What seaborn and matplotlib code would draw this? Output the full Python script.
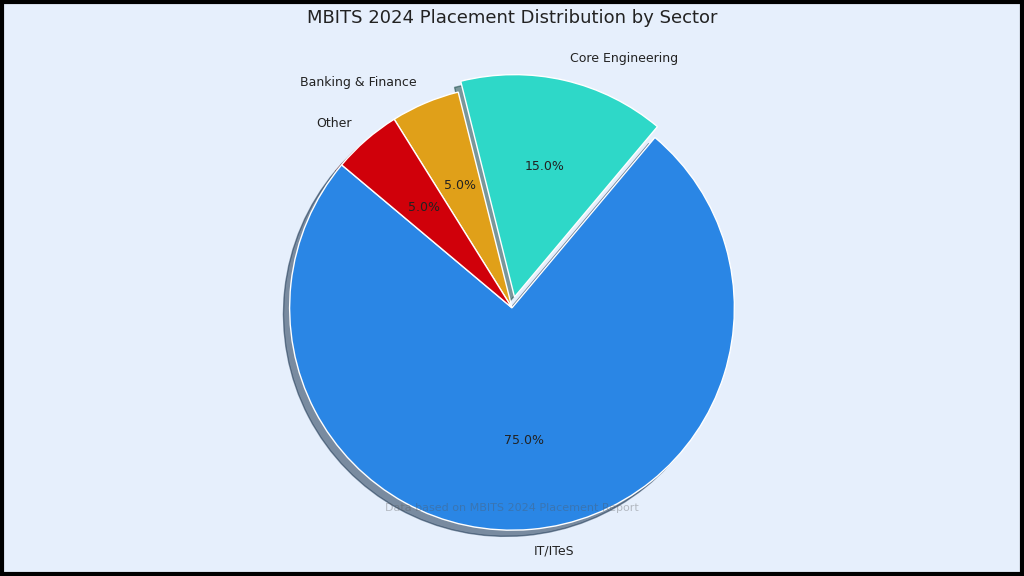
import matplotlib
matplotlib.use("Agg")
import matplotlib.pyplot as plt
import seaborn as sns

sectors = ["IT/ITeS", "Core Engineering", "Banking & Finance", "Other"]
shares = [75, 15, 5, 5]
colors = ["#2a86e5", "#2ed8c8", "#e0a019", "#d0000a"]
explode = [0, 0.05, 0, 0]

sns.set_theme(style="white")
fig = plt.figure(figsize=(10.24, 5.76), dpi=100, facecolor="#e6effc")
fig.patches.append(matplotlib.patches.Rectangle((0.002, 0.003), 0.996, 0.994, transform=fig.transFigure,
                                                fill=False, edgecolor="black", linewidth=3))
ax = fig.add_axes([0.05, 0.04, 0.9, 0.87])
ax.set_facecolor("#e6effc")
ax.pie(shares, labels=sectors, colors=colors, explode=explode, startangle=140,
       autopct="%1.1f%%", shadow=True, pctdistance=0.6, labeldistance=1.1,
       textprops={"fontsize": 9, "color": "#222222"})
ax.axis("equal")
fig.suptitle("MBITS 2024 Placement Distribution by Sector", fontsize=13, y=0.985, color="#222222")
fig.text(0.5, 0.112, "Data based on MBITS 2024 Placement Report", ha="center", fontsize=8,
         color="#555555", alpha=0.35)
fig.savefig("out.png", dpi=100, facecolor=fig.get_facecolor())
